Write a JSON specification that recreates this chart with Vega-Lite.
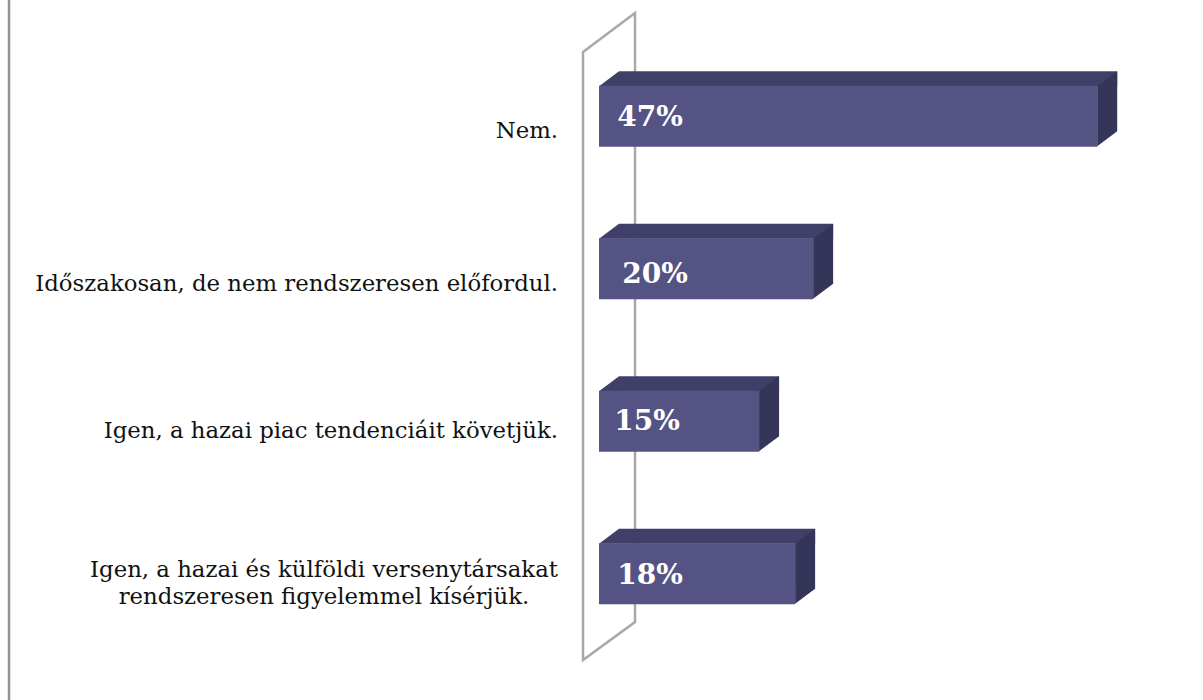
{
  "$schema": "https://vega.github.io/schema/vega-lite/v6.json",
  "width": 1203,
  "height": 700,
  "padding": 0,
  "autosize": {"type": "none"},
  "background": "white",
  "config": {"view": {"stroke": null}},
  "layer": [
    {
      "data": {"values": [{"frame": "left"}]},
      "mark": {"type": "rule", "color": "#929292", "strokeWidth": 2.5, "xOffset": -590},
      "encoding": {"x": {"datum": 0, "type": "quantitative", "axis": null, "scale": {"domain": [-56.51, 56.98], "range": [0, 1203], "nice": false, "zero": false}}}
    },
    {
      "data": {"values": [{"frame": "wall"}]},
      "mark": {"type": "point", "filled": false, "opacity": 1, "size": 4, "stroke": "#a8a8a8", "strokeWidth": 2.5,
        "shape": "M-16,-298L36,-337L36,272L-16,310Z"},
      "encoding": {"x": {"datum": 0, "type": "quantitative", "axis": null}}
    },
    {
      "data": {"values": [
        {"category": "Nem.", "value": 47, "pct": "47%", "lines": 1},
        {"category": "Időszakosan, de nem rendszeresen előfordul.", "value": 20.2, "pct": "20%", "lines": 1},
        {"category": "Igen, a hazai piac tendenciáit követjük.", "value": 15.1, "pct": "15%", "lines": 1},
        {"category": "Igen, a hazai és külföldi versenytársakat\nrendszeresen figyelemmel kísérjük.", "value": 18.5, "pct": "18%", "lines": 2}
      ]},
      "encoding": {
        "y": {"field": "category", "type": "nominal", "sort": null, "axis": null,
          "scale": {"range": [40, 650], "paddingInner": 0.6, "paddingOuter": 0.3}},
        "x": {"field": "value", "type": "quantitative", "axis": null}
      },
      "layer": [
        {
          "mark": {"type": "bar", "color": "#3f3f68", "size": 15, "yOffset": -37.5, "xOffset": 20, "x2Offset": 20},
          "encoding": {"x2": {"datum": 0}}
        },
        {
          "mark": {"type": "point", "filled": true, "opacity": 1, "size": 4, "color": "#3f3f68",
            "shape": "M0,-30L20,-45L20,-30Z"},
          "encoding": {"x": {"datum": 0}}
        },
        {
          "mark": {"type": "point", "filled": true, "opacity": 1, "size": 4, "color": "#343558",
            "shape": "M0,-30L20,-45L20,15L0,30Z"}
        },
        {
          "mark": {"type": "bar", "color": "#545383", "size": 61},
          "encoding": {"x2": {"datum": 0}}
        },
        {
          "transform": [{"filter": "datum.pct == '47%' || datum.pct == '18%'"}],
          "mark": {"type": "text", "font": "DejaVu Serif", "fontWeight": "bold", "fontSize": 28, "color": "white", "align": "center", "baseline": "middle", "xOffset": 51, "yOffset": 2},
          "encoding": {"x": {"datum": 0}, "text": {"field": "pct"}}
        },
        {
          "transform": [{"filter": "datum.pct == '20%'"}],
          "mark": {"type": "text", "font": "DejaVu Serif", "fontWeight": "bold", "fontSize": 28, "color": "white", "align": "center", "baseline": "middle", "xOffset": 56, "yOffset": 6},
          "encoding": {"x": {"datum": 0}, "text": {"field": "pct"}}
        },
        {
          "transform": [{"filter": "datum.pct == '15%'"}],
          "mark": {"type": "text", "font": "DejaVu Serif", "fontWeight": "bold", "fontSize": 28, "color": "white", "align": "center", "baseline": "middle", "xOffset": 48, "yOffset": 1},
          "encoding": {"x": {"datum": 0}, "text": {"field": "pct"}}
        },
        {
          "transform": [{"filter": "datum.lines == 1 && datum.pct != '15%'"}],
          "mark": {"type": "text", "font": "DejaVu Serif", "fontSize": 22.8, "color": "#111111", "align": "right", "baseline": "middle", "xOffset": -41, "yOffset": 15},
          "encoding": {"x": {"datum": 0}, "text": {"field": "category"}}
        },
        {
          "transform": [{"filter": "datum.pct == '15%'"}],
          "mark": {"type": "text", "font": "DejaVu Serif", "fontSize": 22.8, "color": "#111111", "align": "right", "baseline": "middle", "xOffset": -41, "yOffset": 10},
          "encoding": {"x": {"datum": 0}, "text": {"field": "category"}}
        },
        {
          "transform": [{"filter": "datum.lines == 2"}],
          "mark": {"type": "text", "font": "DejaVu Serif", "fontSize": 22.8, "color": "#111111", "align": "center", "baseline": "middle", "lineBreak": "\n", "lineHeight": 27, "xOffset": -275, "yOffset": -4},
          "encoding": {"x": {"datum": 0}, "text": {"field": "category"}}
        }
      ]
    }
  ]
}
